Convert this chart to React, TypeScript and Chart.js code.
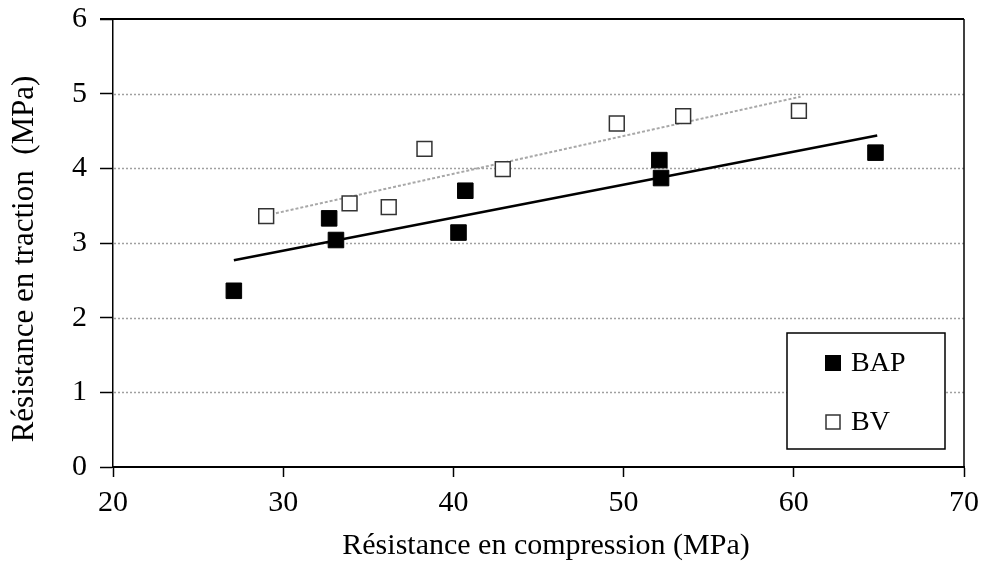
import React, { useEffect, useRef } from "react";
import { Chart, registerables } from "chart.js";

Chart.register(...registerables);

// Data
const bapX = [27.1, 32.7, 33.1, 40.3, 40.7, 52.1, 52.2, 64.8];
const bapY = [2.36, 3.33, 3.04, 3.14, 3.7, 4.11, 3.87, 4.21];
const bvX = [29.0, 33.9, 36.2, 38.3, 42.9, 49.6, 53.5, 60.3];
const bvY = [3.36, 3.53, 3.48, 4.26, 3.99, 4.6, 4.7, 4.77];
const bapTrendX = [27.1, 64.9];
const bapTrendY = [2.77, 4.44];
const bvTrendX = [29.0, 60.4];
const bvTrendY = [3.37, 4.96];
const gridValues = [1, 2, 3, 4, 5];
const seriesNames = ["BAP", "BV"];
const xTitle = "Résistance en compression (MPa)";
const yTitle = "Résistance en traction  (MPa)";

const FONT = "'Liberation Serif', 'Times New Roman', Times, serif";

const pts = (xs: number[], ys: number[]) => xs.map((x, i) => ({ x, y: ys[i] }));

const framePlugin = {
  id: "frameAndGrid",
  beforeDatasetsDraw(chart: any) {
    const { ctx, chartArea } = chart;
    const ys = chart.scales.y;
    ctx.save();
    ctx.strokeStyle = "#a0a0a0";
    ctx.lineWidth = 1.5;
    ctx.setLineDash([2, 2]);
    gridValues.forEach((v) => {
      const y = Math.round(ys.getPixelForValue(v)) + 0.5;
      ctx.beginPath();
      ctx.moveTo(chartArea.left + 1, y);
      ctx.lineTo(chartArea.right, y);
      ctx.stroke();
    });
    ctx.setLineDash([]);
    ctx.strokeStyle = "#000";
    ctx.lineWidth = 2;
    ctx.beginPath();
    ctx.moveTo(chartArea.left - 13, chartArea.top);
    ctx.lineTo(chartArea.right, chartArea.top);
    ctx.stroke();
    ctx.lineWidth = 1.5;
    ctx.beginPath();
    ctx.moveTo(chartArea.right, chartArea.top);
    ctx.lineTo(chartArea.right, chartArea.bottom);
    ctx.stroke();
    ctx.restore();
  },
  afterDraw(chart: any) {
    const { ctx } = chart;
    ctx.save();
    // axis titles
    ctx.fillStyle = "#000";
    ctx.font = `30px ${FONT}`;
    ctx.textAlign = "center";
    ctx.textBaseline = "middle";
    ctx.fillText(xTitle, 546, 546);
    ctx.save();
    ctx.translate(25, 259);
    ctx.rotate(-Math.PI / 2);
    ctx.font = `31px ${FONT}`;
    ctx.fillText(yTitle, 0, 0);
    ctx.restore();
    // legend box
    ctx.fillStyle = "#fff";
    ctx.fillRect(787, 333, 158, 116);
    ctx.strokeStyle = "#000";
    ctx.lineWidth = 1.5;
    ctx.strokeRect(787, 333, 158, 116);
    // BAP marker
    ctx.fillStyle = "#000";
    ctx.fillRect(825, 355, 16, 16);
    // BV marker
    ctx.fillStyle = "#fff";
    ctx.fillRect(826, 415, 14, 14);
    ctx.strokeStyle = "#333";
    ctx.lineWidth = 1.5;
    ctx.strokeRect(826, 415, 14, 14);
    ctx.fillStyle = "#000";
    ctx.font = `28px ${FONT}`;
    ctx.textAlign = "left";
    ctx.textBaseline = "middle";
    ctx.fillText(seriesNames[0], 851, 364);
    ctx.fillText(seriesNames[1], 851, 423);
    ctx.restore();
  },
};

export default function App() {
  const ref = useRef<HTMLCanvasElement | null>(null);
  useEffect(() => {
    if (!ref.current) return;
    Chart.defaults.font.family = FONT;
    Chart.defaults.color = "#000";
    const chart = new Chart(ref.current, {
      type: "scatter",
      data: {
        datasets: [
          {
            label: seriesNames[0] + " trend",
            type: "line",
            data: pts(bapTrendX, bapTrendY),
            borderColor: "#000",
            borderWidth: 2.5,
            pointRadius: 0,
            showLine: true,
            fill: false,
            order: 2,
          },
          {
            label: seriesNames[1] + " trend",
            type: "line",
            data: pts(bvTrendX, bvTrendY),
            borderColor: "#a8a8a8",
            borderWidth: 2,
            borderDash: [3, 2],
            pointRadius: 0,
            showLine: true,
            fill: false,
            order: 2,
          },
          {
            label: seriesNames[0],
            data: pts(bapX, bapY),
            pointStyle: "rect",
            pointRadius: 11,
            pointHoverRadius: 11,
            backgroundColor: "#000",
            borderColor: "#000",
            borderWidth: 1,
            order: 1,
          },
          {
            label: seriesNames[1],
            data: pts(bvX, bvY),
            pointStyle: "rect",
            pointRadius: 10.5,
            pointHoverRadius: 10.5,
            backgroundColor: "#fff",
            borderColor: "#333",
            borderWidth: 1.5,
            order: 1,
          },
        ],
      },
      options: {
        animation: false,
        responsive: false,
        devicePixelRatio: 1,
        layout: { padding: { left: 0, top: 19, right: 18, bottom: 0 } },
        plugins: {
          legend: { display: false },
          tooltip: { enabled: false },
        },
        scales: {
          x: {
            type: "linear",
            min: 20,
            max: 70,
            afterFit: (s: any) => {
              s.height = 100;
              s.paddingLeft = 0;
              s.paddingRight = 0;
            },
            ticks: {
              stepSize: 10,
              padding: 8,
              color: "#000",
              font: { size: 30, family: FONT },
            },
            grid: {
              drawOnChartArea: false,
              drawTicks: true,
              tickLength: 10,
              tickColor: "#000",
              tickWidth: 1.5,
            },
            border: { color: "#000", width: 2 },
            title: { display: false },
          },
          y: {
            type: "linear",
            min: 0,
            max: 6,
            afterFit: (s: any) => {
              s.width = 113;
              s.paddingTop = 0;
              s.paddingBottom = 0;
            },
            ticks: {
              stepSize: 1,
              padding: 13,
              color: "#000",
              font: { size: 30, family: FONT },
            },
            grid: {
              drawOnChartArea: false,
              drawTicks: true,
              tickLength: 13,
              tickColor: "#000",
              tickWidth: 1.5,
            },
            border: { color: "#000", width: 1.5 },
            title: { display: false },
          },
        },
      },
      plugins: [framePlugin],
    } as any);
    return () => chart.destroy();
  }, []);
  return (
    <div
      style={{
        position: "fixed",
        left: 0,
        top: 0,
        width: 982,
        height: 567,
        background: "#fff",
      }}
    >
      <canvas ref={ref} width={982} height={567} style={{ display: "block" }} />
    </div>
  );
}
